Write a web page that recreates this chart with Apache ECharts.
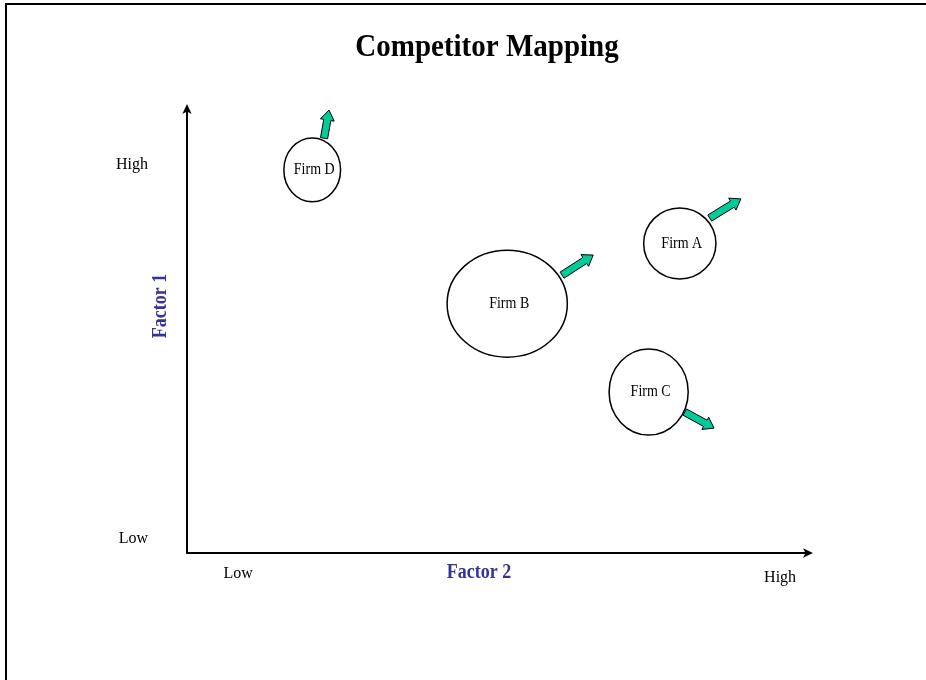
<!DOCTYPE html>
<html>
<head>
<meta charset="utf-8">
<script src="https://cdn.jsdelivr.net/npm/echarts@6/dist/echarts.min.js"></script>
<style>
html,body{margin:0;padding:0;background:#fff;}
#chart{width:926px;height:680px;}
</style>
</head>
<body>
<div id="chart"></div>
<script>
// ---- data ----
const firmNames = ['Firm A', 'Firm B', 'Firm C', 'Firm D'];
const factor2 = [7.91, 5.14, 7.41, 2.01];      // x position
const factor1 = [6.94, 5.59, 3.61, 8.59];      // y position
const bubbleW = [1.16, 1.93, 1.27, 0.91];      // ellipse width (x units)
const bubbleH = [1.59, 2.40, 1.93, 1.43];      // ellipse height (y units)
const moveFromX = [8.39, 6.02, 7.99, 2.20];
const moveFromY = [7.51, 6.23, 3.16, 9.30];
const moveToX = [8.89, 6.52, 8.46, 2.28];
const moveToY = [7.94, 6.68, 2.80, 9.93];
const xTickValues = [0.82, 9.52];
const xTickLabels = ['Low', 'High'];
const yTickValues = [0.32, 8.70];
const yTickLabels = ['Low', 'High'];

const serif = '"Liberation Serif", "Times New Roman", serif';

const bubbleData = firmNames.map((n, i) => [factor2[i], factor1[i], bubbleW[i], bubbleH[i], n]);
const arrowData = firmNames.map((n, i) => [moveFromX[i], moveFromY[i], moveToX[i], moveToY[i]]);

const chart = echarts.init(document.getElementById('chart'));
chart.setOption({
  animation: false,
  backgroundColor: '#fff',
  grid: { left: 187, right: 116, top: 107, bottom: 127, containLabel: false },
  xAxis: {
    type: 'value', min: 0, max: 10,
    splitLine: { show: false },
    axisTick: { show: false },
    axisLine: { show: true, onZero: false, lineStyle: { color: '#000', width: 2 },
      symbol: ['none', 'arrow'], symbolSize: [7, 10], symbolOffset: [0, 3] },
    axisLabel: {
      customValues: xTickValues,
      margin: 13,
      formatter: v => {
        const i = xTickValues.indexOf(v);
        return i < 0 ? '' : (i === 1 ? '{hi|' + xTickLabels[i] + '}' : '{lo|' + xTickLabels[i] + '}');
      },
      rich: {
        lo: { fontFamily: serif, fontSize: 16, color: '#000' },
        hi: { fontFamily: serif, fontSize: 16, color: '#000', padding: [4, 0, 0, 0] }
      },
      color: '#000', fontFamily: serif, fontSize: 16
    }
  },
  yAxis: {
    type: 'value', min: 0, max: 10,
    splitLine: { show: false },
    axisTick: { show: false },
    axisLine: { show: true, onZero: false, lineStyle: { color: '#000', width: 2 },
      symbol: ['none', 'arrow'], symbolSize: [7, 10], symbolOffset: [0, 3] },
    axisLabel: {
      customValues: yTickValues,
      margin: 39,
      formatter: v => { const i = yTickValues.indexOf(v); return i < 0 ? '' : yTickLabels[i]; },
      color: '#000', fontFamily: serif, fontSize: 16
    }
  },
  graphic: [
    { type: 'rect', shape: { x: 6, y: 4, width: 2000, height: 2000 },
      style: { fill: 'none', stroke: '#000', lineWidth: 2 }, silent: true, z: 100 },
    { type: 'text', x: 487, y: 48, scaleY: 1.12,
      style: { text: 'Competitor Mapping', align: 'center', verticalAlign: 'middle',
        fontFamily: serif, fontSize: 29, fontWeight: 'bold', fill: '#000' } },
    { type: 'text', x: 479, y: 573, scaleY: 1.12,
      style: { text: 'Factor 2', align: 'center', verticalAlign: 'middle',
        fontFamily: serif, fontSize: 18, fontWeight: 'bold', fill: '#333399' } },
    { type: 'text', x: 161, y: 306, rotation: Math.PI / 2, scaleY: 1.12,
      style: { text: 'Factor 1', align: 'center', verticalAlign: 'middle',
        fontFamily: serif, fontSize: 18, fontWeight: 'bold', fill: '#333399' } }
  ],
  series: [
    {
      type: 'custom',
      clip: false,
      z: 2,
      data: bubbleData,
      renderItem: (params, api) => {
        const c = api.coord([api.value(0), api.value(1)]);
        const s = api.size([api.value(2), api.value(3)]);
        return {
          type: 'group',
          children: [
            { type: 'ellipse', shape: { cx: c[0], cy: c[1], rx: s[0] / 2, ry: s[1] / 2 },
              style: { fill: '#fff', stroke: '#000', lineWidth: 1.5 } },
            { type: 'text', x: c[0] + 2, y: c[1], scaleY: 1.12,
              style: { text: bubbleData[params.dataIndex][4], align: 'center', verticalAlign: 'middle',
                fontFamily: serif, fontSize: 14, fill: '#000' } }
          ]
        };
      }
    },
    {
      type: 'custom',
      clip: false,
      z: 3,
      data: arrowData,
      renderItem: (params, api) => {
        const t = api.coord([api.value(0), api.value(1)]);
        const p = api.coord([api.value(2), api.value(3)]);
        const dx = p[0] - t[0], dy = p[1] - t[1];
        const L = Math.sqrt(dx * dx + dy * dy);
        const ux = dx / L, uy = dy / L;
        const nx = -uy, ny = ux;
        const sw = 3.6, hw = 7, hl = 10;
        const hx = p[0] - ux * hl, hy = p[1] - uy * hl;
        const pts = [
          [t[0] + nx * sw, t[1] + ny * sw],
          [hx + nx * sw, hy + ny * sw],
          [hx + nx * hw, hy + ny * hw],
          [p[0], p[1]],
          [hx - nx * hw, hy - ny * hw],
          [hx - nx * sw, hy - ny * sw],
          [t[0] - nx * sw, t[1] - ny * sw]
        ];
        return { type: 'polygon', shape: { points: pts },
          style: { fill: '#00CC99', stroke: '#000', lineWidth: 1 } };
      }
    }
  ]
});
</script>
</body>
</html>
